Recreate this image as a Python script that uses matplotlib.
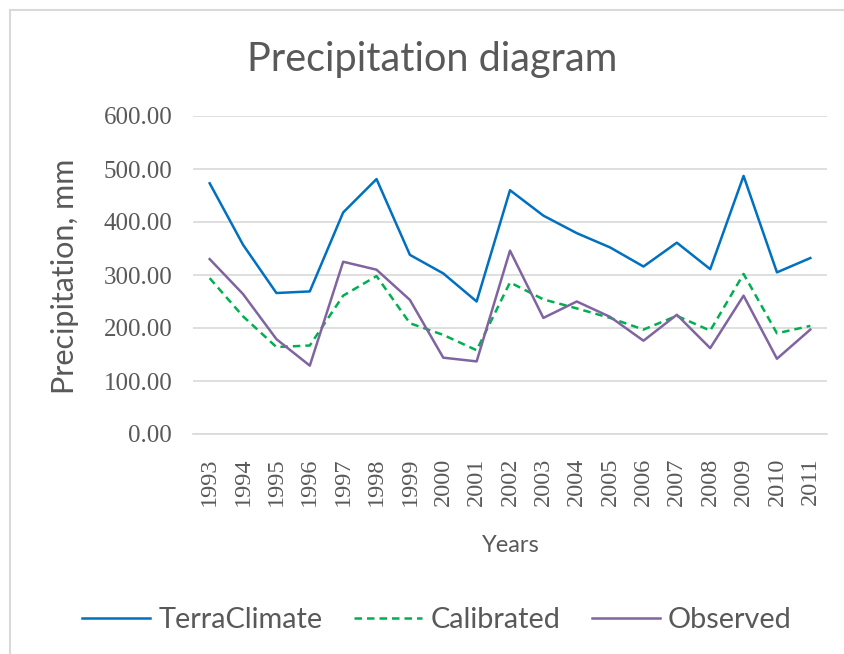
import matplotlib
matplotlib.use("Agg")
import matplotlib.pyplot as plt
import numpy as np
from matplotlib.patches import Rectangle

# data
years = [str(y) for y in range(1993, 2012)]
terraclimate = [473, 357, 266, 269, 418, 481, 338, 303, 250, 460,
                412, 379, 352, 316, 361, 311, 487, 305, 332]
calibrated = [294, 222, 164, 167, 261, 298, 209, 187, 158, 286,
              254, 237, 219, 197, 223, 195, 302, 190, 204]
observed = [330, 264, 179, 129, 325, 310, 253, 144, 137, 346,
            219, 250, 221, 176, 225, 162, 261, 142, 197]
yticks = [0, 100, 200, 300, 400, 500, 600]

sans = ["Lato", "DejaVu Sans"]
serif = ["Liberation Serif", "DejaVu Serif"]
grey_txt = "#595959"

fig = plt.figure(figsize=(8.44, 6.54), dpi=100)
# chart frame
fig.patches.append(Rectangle((10/844, -0.05), 1.1, 1 - 10/654 + 0.05,
                             transform=fig.transFigure, fill=False,
                             edgecolor="#d9d9d9", lw=1.5))

ax = fig.add_axes([193/844, 1-434/654, (827-193)/844, (434-116)/654])
x = np.arange(len(years))
ax.plot(x, terraclimate, color="#0070C0", lw=1.8, label="TerraClimate")
ax.plot(x, calibrated, color="#00B050", lw=1.8, ls=(0, (3, 2)), label="Calibrated")
ax.plot(x, observed, color="#8064A2", lw=1.8, label="Observed")

ax.set_xlim(-0.5, len(years)-0.5)
ax.set_ylim(0, 600)
ax.set_yticks(yticks)
ax.set_yticklabels([f"{v:.2f}" for v in yticks], family=serif, fontsize=18,
                   color=grey_txt)
ax.set_xticks(x)
ax.set_xticklabels(years, rotation=90, family=serif, fontsize=17.5, color=grey_txt)
ax.tick_params(axis="both", length=0)
ax.tick_params(axis="y", pad=15)
ax.tick_params(axis="x", pad=17)
ax.grid(axis="y", color="#d9d9d9", lw=1.2)
ax.set_axisbelow(True)
for s in ["top", "right", "left"]:
    ax.spines[s].set_visible(False)
ax.spines["bottom"].set_color("#d9d9d9")
ax.spines["bottom"].set_linewidth(1.2)

fig.text(432/844, 1-60/654, "Precipitation diagram", ha="center", va="center",
         family=sans, fontsize=28.5, color=grey_txt)
fig.text(65/844, 1-276/654, "Precipitation, mm", ha="center", va="center",
         rotation=90, family=sans, fontsize=22, color=grey_txt)
fig.text(511/844, 1-545/654, "Years", ha="center", va="center",
         family=sans, fontsize=17, color=grey_txt)

leg = fig.legend(loc="center", bbox_to_anchor=(437/844, 1-620/654), ncol=3,
                 frameon=False, handlelength=2.35, handletextpad=0.28,
                 columnspacing=1.1, prop={"family": sans, "size": 20.8})
for t in leg.get_texts():
    t.set_color(grey_txt)

fig.savefig("out.png", dpi=100)
